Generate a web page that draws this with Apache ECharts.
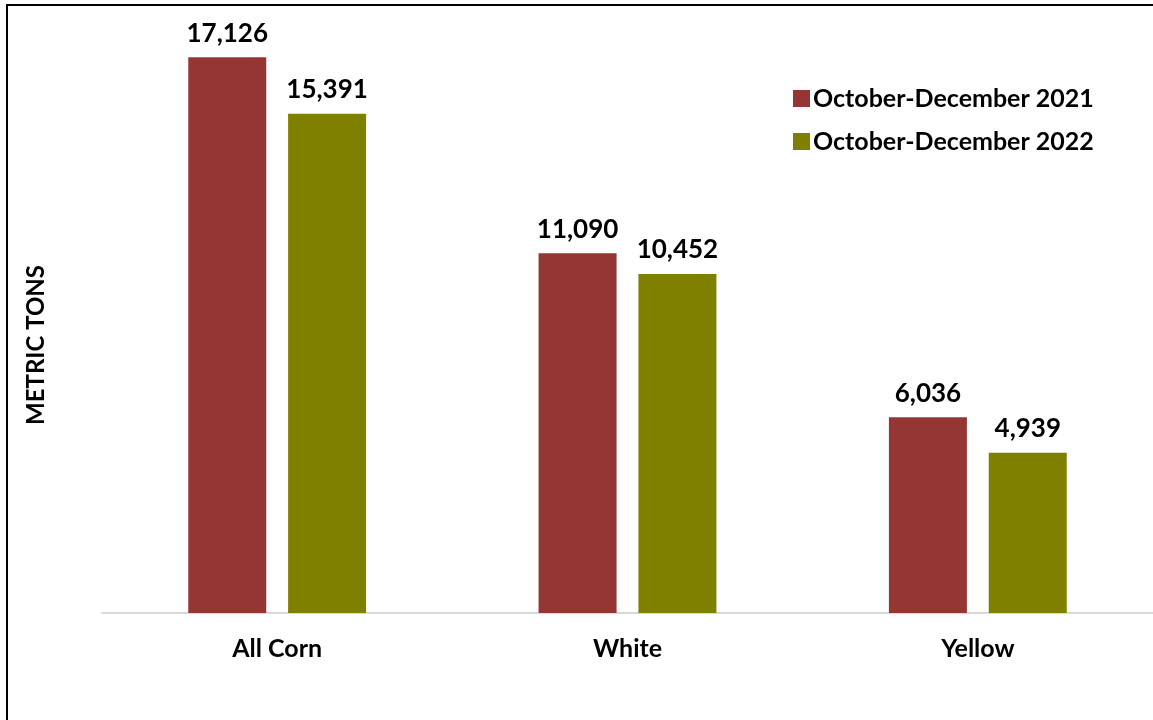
<!DOCTYPE html>
<html>
<head>
<meta charset="utf-8">
<script src="https://cdn.jsdelivr.net/npm/echarts@6/dist/echarts.min.js"></script>
<style>
  html, body { margin: 0; padding: 0; background: #fff; }
  #chart { width: 1153px; height: 720px; }
</style>
</head>
<body>
<div id="chart"></div>
<script>
const categories = ['All Corn', 'White', 'Yellow']
const seriesNames = ['October-December 2021', 'October-December 2022']
const values2021 = [17126, 11090, 6036]
const values2022 = [15391, 10452, 4939]
const colors = ['#943634', '#808000']

const myChart = echarts.init(document.getElementById('chart'))
const font = 'Lato, "Open Sans", sans-serif'

const labelStyle = {
  show: true,
  position: 'top',
  distance: 11,
  color: '#000',
  fontFamily: font,
  fontWeight: 'bold',
  fontSize: 26,
  formatter: p => p.value.toLocaleString('en-US')
}

let options = {
  color: colors,
  animation: false,
  graphic: [
    {
      type: 'rect',
      shape: { x: 7, y: 5, width: 1200, height: 800 },
      style: { fill: 'none', stroke: '#000', lineWidth: 2 },
      silent: true
    }
  ],
  legend: {
    data: seriesNames,
    orient: 'vertical',
    left: 788,
    top: 81,
    itemWidth: 17,
    itemHeight: 17,
    itemGap: 18,
    icon: 'rect',
    textStyle: {
      fontFamily: font,
      fontWeight: 'bold',
      fontSize: 25,
      color: '#000',
      padding: [0, 0, 0, -2]
    }
  },
  grid: {
    left: 102,
    top: 29,
    width: 1056,
    height: 584
  },
  xAxis: {
    type: 'category',
    data: categories,
    axisLine: { lineStyle: { color: '#d9d9d9', width: 2 } },
    axisTick: { show: false },
    axisLabel: {
      color: '#000',
      fontFamily: font,
      fontWeight: 'bold',
      fontSize: 25,
      margin: 23
    }
  },
  yAxis: {
    type: 'value',
    min: 0,
    max: 18000,
    show: true,
    axisLine: { show: false },
    axisTick: { show: false },
    axisLabel: { show: false },
    splitLine: { show: false },
    name: 'METRIC TONS',
    nameLocation: 'middle',
    nameRotate: 90,
    nameGap: 54,
    nameTextStyle: {
      color: '#000',
      fontFamily: font,
      fontWeight: 'bold',
      fontSize: 24,
      padding: [0, 48, 0, 0]
    }
  },
  series: [
    {
      name: seriesNames[0],
      type: 'bar',
      data: values2021,
      barWidth: 78,
      barGap: '28%',
      label: labelStyle
    },
    {
      name: seriesNames[1],
      type: 'bar',
      data: values2022,
      barWidth: 78,
      barGap: '28%',
      label: labelStyle
    }
  ]
}
myChart.setOption(options)
</script>
</body>
</html>
